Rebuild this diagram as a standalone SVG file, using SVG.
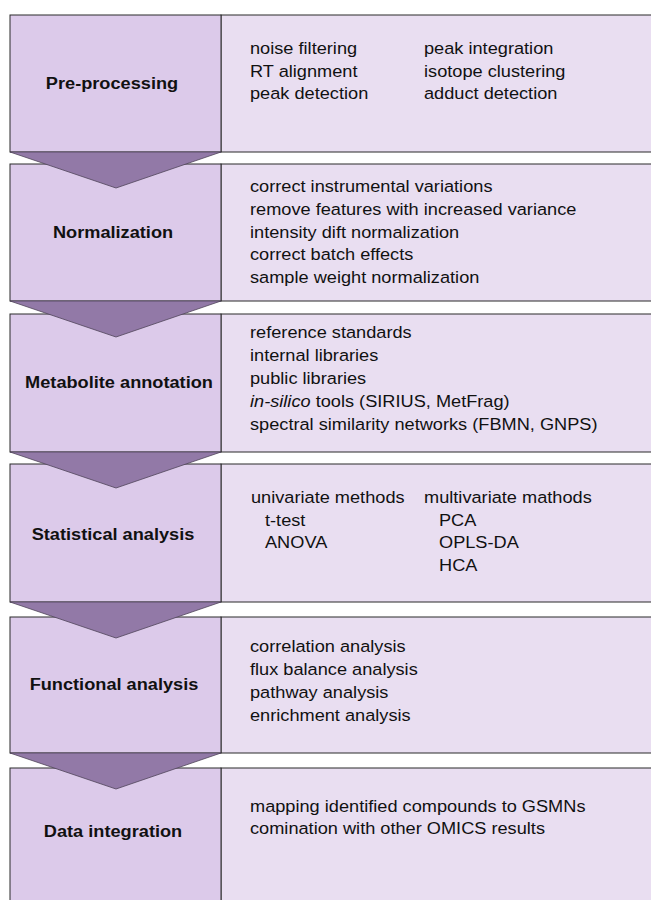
<svg xmlns="http://www.w3.org/2000/svg" width="651" height="900" viewBox="0 0 651 900">
<style>
  .lbox { fill: #DCCAEA; stroke: #2a2a2a; stroke-width: 1; }
  .rbox { fill: #E9DEF1; stroke: #2a2a2a; stroke-width: 1; }
  .chev { fill: #9279A7; stroke: #4f4459; stroke-width: 0.8; stroke-linejoin: miter; }
  .lbl { font-family: "Liberation Sans", Arial, sans-serif; font-weight: bold; font-size: 17px; fill: #111; text-anchor: middle; }
  .txt { font-family: "Liberation Sans", Arial, sans-serif; font-size: 17px; fill: #111; }
</style>
<rect width="651" height="900" fill="#ffffff"/>

<g id="node-preprocessing">
  <rect class="rbox" x="221" y="15" width="432" height="137"/>
  <rect class="lbox" x="10" y="15" width="211" height="137"/>
  <text class="lbl" transform="translate(112 89) scale(1.07 1)">Pre-processing</text>
  <text class="txt" transform="translate(250 54) scale(1.07 1)">noise filtering</text>
  <text class="txt" transform="translate(250 77) scale(1.07 1)">RT alignment</text>
  <text class="txt" transform="translate(250 99) scale(1.07 1)">peak detection</text>
  <text class="txt" transform="translate(424 54) scale(1.07 1)">peak integration</text>
  <text class="txt" transform="translate(424 77) scale(1.07 1)">isotope clustering</text>
  <text class="txt" transform="translate(424 99) scale(1.07 1)">adduct detection</text>
</g>

<g id="node-normalization">
  <rect class="rbox" x="221" y="164" width="432" height="137"/>
  <rect class="lbox" x="10" y="164" width="211" height="137"/>
  <text class="lbl" transform="translate(113 238) scale(1.07 1)">Normalization</text>
  <text class="txt" transform="translate(250 192) scale(1.07 1)">correct instrumental variations</text>
  <text class="txt" transform="translate(250 215) scale(1.07 1)">remove features with increased variance</text>
  <text class="txt" transform="translate(250 238) scale(1.07 1)">intensity dift normalization</text>
  <text class="txt" transform="translate(250 260) scale(1.07 1)">correct batch effects</text>
  <text class="txt" transform="translate(250 283) scale(1.07 1)">sample weight normalization</text>
</g>

<g id="node-annotation">
  <rect class="rbox" x="221" y="314" width="432" height="138"/>
  <rect class="lbox" x="10" y="314" width="211" height="138"/>
  <text class="lbl" transform="translate(119 388) scale(1.07 1)">Metabolite annotation</text>
  <text class="txt" transform="translate(250 338) scale(1.07 1)">reference standards</text>
  <text class="txt" transform="translate(250 361) scale(1.07 1)">internal libraries</text>
  <text class="txt" transform="translate(250 384) scale(1.07 1)">public libraries</text>
  <text class="txt" transform="translate(250 407) scale(1.07 1)"><tspan font-style="italic">in-silico</tspan> tools (SIRIUS, MetFrag)</text>
  <text class="txt" transform="translate(250 430) scale(1.07 1)">spectral similarity networks (FBMN, GNPS)</text>
</g>

<g id="node-statistics">
  <rect class="rbox" x="221" y="464" width="432" height="138"/>
  <rect class="lbox" x="10" y="464" width="211" height="138"/>
  <text class="lbl" transform="translate(113 540) scale(1.07 1)">Statistical analysis</text>
  <text class="txt" transform="translate(251 503) scale(1.07 1)">univariate methods</text>
  <text class="txt" transform="translate(265 526) scale(1.07 1)">t-test</text>
  <text class="txt" transform="translate(265 548) scale(1.07 1)">ANOVA</text>
  <text class="txt" transform="translate(424 503) scale(1.07 1)">multivariate mathods</text>
  <text class="txt" transform="translate(439 526) scale(1.07 1)">PCA</text>
  <text class="txt" transform="translate(439 548) scale(1.07 1)">OPLS-DA</text>
  <text class="txt" transform="translate(439 571) scale(1.07 1)">HCA</text>
</g>

<g id="node-functional">
  <rect class="rbox" x="221" y="617" width="432" height="136"/>
  <rect class="lbox" x="10" y="617" width="211" height="136"/>
  <text class="lbl" transform="translate(114 690) scale(1.07 1)">Functional analysis</text>
  <text class="txt" transform="translate(250 652) scale(1.07 1)">correlation analysis</text>
  <text class="txt" transform="translate(250 675) scale(1.07 1)">flux balance analysis</text>
  <text class="txt" transform="translate(250 698) scale(1.07 1)">pathway analysis</text>
  <text class="txt" transform="translate(250 721) scale(1.07 1)">enrichment analysis</text>
</g>

<g id="node-integration">
  <rect class="rbox" x="221" y="768" width="432" height="140"/>
  <rect class="lbox" x="10" y="768" width="211" height="140"/>
  <text class="lbl" transform="translate(113 837) scale(1.07 1)">Data integration</text>
  <text class="txt" transform="translate(250 812) scale(1.07 1)">mapping identified compounds to GSMNs</text>
  <text class="txt" transform="translate(250 834) scale(1.07 1)">comination with other OMICS results</text>
</g>

<g id="connectors">
  <polygon class="chev" points="10,152 221,152 116,188"/>
  <polygon class="chev" points="10,301 221,301 116,337"/>
  <polygon class="chev" points="10,452 221,452 116,488"/>
  <polygon class="chev" points="10,602 221,602 116,638"/>
  <polygon class="chev" points="10,753 221,753 116,789"/>
</g>
</svg>
